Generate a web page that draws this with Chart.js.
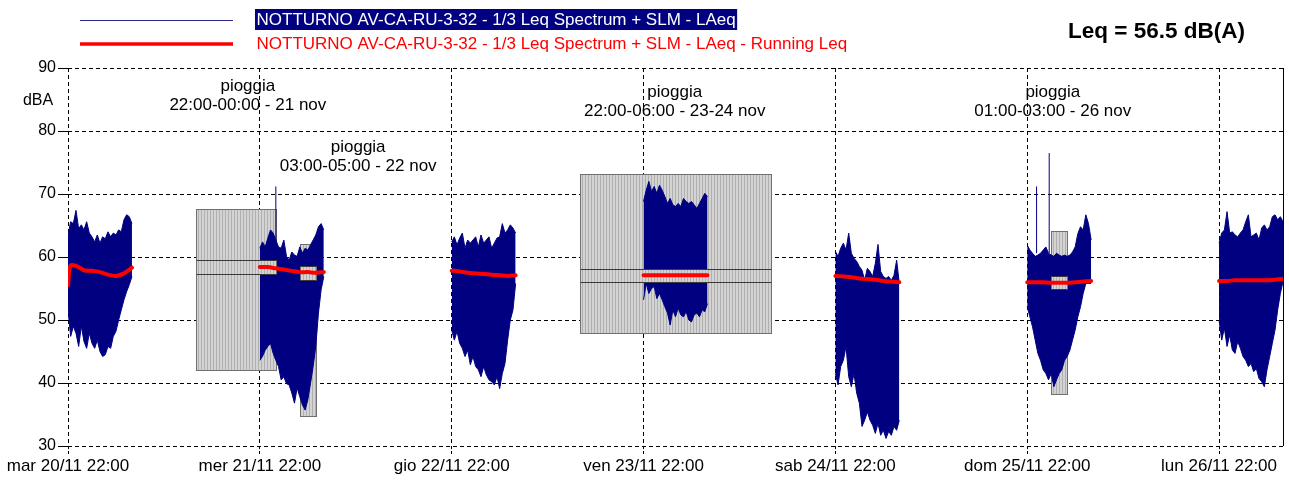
<!DOCTYPE html>
<html>
<head>
<meta charset="utf-8">
<script src="https://cdn.jsdelivr.net/npm/chart.js@4.4.1/dist/chart.umd.min.js"></script>
<style>
    html, body { margin: 0; padding: 0; background: #fff; }
    #wrap { width: 1289px; height: 480px; }
</style>
</head>
<body>
<div id="wrap"><canvas id="leqChart"></canvas></div>
<script>
// x axis: hours counted from mar 20/11 22:00
const xTickHours = [0, 24, 48, 72, 96, 120, 144];
const xTickLabels = [
    'mar 20/11 22:00', 'mer 21/11 22:00', 'gio 22/11 22:00', 'ven 23/11 22:00',
    'sab 24/11 22:00', 'dom 25/11 22:00', 'lun 26/11 22:00'
];

const signalLabel = 'NOTTURNO AV-CA-RU-3-32 - 1/3 Leq Spectrum + SLM - LAeq';
const runningLabel = 'NOTTURNO AV-CA-RU-3-32 - 1/3 Leq Spectrum + SLM - LAeq - Running Leq';
const totalLeqText = 'Leq = 56.5 dB(A)';

// each night: 22:00 -> 06:00, one sample every 20 minutes (25 samples)
const nightStartHours = [0, 24, 48, 72, 96, 120, 144];
const sampleStepHours = 1 / 3;

// LAeq envelope, upper edge of the trace per sample
const laeqHigh = [
    [63.5, 65.6, 65.3, 67.4, 64.5, 65.1, 64.3, 65.6, 63.8, 63.2, 62.4, 63.5, 62.2, 63.2, 62.9, 64.0, 63.2, 63.8, 63.5, 64.3, 64.0, 65.9, 66.7, 66.4, 65.3],
    [61.4, 62.4, 61.6, 63.0, 64.3, 63.8, 62.7, 61.6, 61.4, 62.7, 60.1, 59.5, 60.8, 60.3, 60.1, 61.6, 60.6, 61.4, 61.1, 61.9, 62.7, 63.5, 64.8, 65.3, 64.3],
    [62.4, 63.2, 61.9, 63.0, 63.8, 61.4, 62.7, 62.2, 62.7, 63.2, 61.6, 63.5, 62.2, 62.7, 63.2, 61.4, 62.2, 63.0, 63.2, 65.3, 63.8, 64.3, 65.1, 64.6, 63.8],
    [68.8, 70.6, 72.0, 70.4, 71.2, 70.1, 71.4, 70.6, 69.6, 68.5, 69.3, 68.3, 68.0, 68.5, 68.0, 69.3, 68.8, 68.5, 68.8, 68.3, 67.7, 68.5, 69.3, 70.1, 69.6],
    [60.9, 60.1, 61.4, 62.2, 61.1, 63.8, 60.6, 59.8, 59.3, 58.5, 57.9, 56.3, 58.2, 57.7, 56.9, 59.0, 62.0, 57.7, 56.9, 56.6, 56.9, 56.3, 57.1, 59.5, 55.8],
    [61.9, 61.1, 60.6, 60.1, 60.3, 60.6, 61.1, 61.6, 60.6, 60.3, 60.1, 60.6, 60.3, 60.1, 60.3, 60.1, 60.3, 60.8, 61.6, 63.7, 64.8, 64.3, 66.7, 65.3, 62.7],
    [62.2, 63.8, 64.3, 67.2, 63.8, 64.0, 63.5, 63.2, 63.8, 64.3, 65.6, 66.7, 63.2, 63.5, 63.8, 62.7, 64.6, 65.1, 64.3, 64.8, 66.4, 66.7, 65.9, 66.4, 65.6]
];

// LAeq envelope, lower edge of the trace per sample
const laeqLow = [
    [51.6, 47.4, 49.0, 47.9, 45.8, 49.0, 46.6, 45.5, 47.9, 46.3, 45.5, 46.8, 45.0, 44.2, 44.5, 45.8, 45.5, 47.4, 48.2, 50.0, 51.6, 53.2, 54.5, 55.6, 56.9],
    [43.6, 44.2, 45.2, 45.8, 46.3, 44.7, 43.6, 42.6, 40.5, 41.0, 39.9, 39.7, 38.4, 36.8, 39.2, 37.8, 36.5, 35.7, 37.3, 39.9, 42.6, 45.8, 51.1, 54.8, 56.9],
    [48.4, 46.8, 48.2, 46.3, 45.5, 44.2, 45.2, 42.9, 44.2, 42.6, 42.1, 41.0, 42.6, 41.3, 40.5, 40.2, 39.7, 41.0, 39.1, 41.5, 43.1, 46.8, 50.0, 51.6, 55.8],
    [53.2, 55.8, 54.2, 55.0, 55.3, 53.4, 54.2, 53.2, 52.1, 51.1, 49.2, 51.6, 50.5, 51.9, 50.8, 50.5, 51.3, 50.0, 49.7, 50.8, 51.1, 50.5, 51.6, 51.3, 52.6],
    [41.5, 39.7, 42.6, 43.6, 45.8, 41.0, 39.4, 41.5, 38.4, 36.8, 33.1, 34.1, 35.4, 34.1, 33.3, 32.0, 33.6, 31.7, 32.5, 31.2, 32.3, 31.7, 33.1, 32.5, 34.1],
    [52.1, 50.5, 48.9, 46.8, 44.7, 43.6, 42.1, 41.5, 40.5, 41.5, 39.4, 40.5, 41.5, 42.1, 43.6, 44.2, 45.2, 46.8, 48.4, 50.5, 52.1, 54.2, 55.8, 55.8, 55.8],
    [50.0, 46.8, 48.7, 45.8, 47.6, 45.2, 44.7, 46.6, 45.5, 44.2, 43.6, 42.6, 43.1, 41.8, 42.3, 40.7, 40.2, 39.4, 42.1, 44.2, 46.3, 48.4, 51.6, 54.2, 56.1]
];

// isolated single peaks
const spikeHours = [26, 121.17, 122.75];
const spikeBase = [62.0, 60.6, 60.6];
const spikeTop = [71.2, 71.2, 76.5];

// running Leq, hours after 22:00 of each night
const runningOffsets = [0, 0.3, 1, 2, 3, 4, 5, 6, 7, 8];
const runningLeq = [
    [55.5, 58.6, 58.6, 57.9, 57.8, 57.6, 57.2, 57.0, 57.4, 58.3],
    [58.4, 58.4, 58.4, 58.2, 58.0, 57.8, 57.6, 57.6, 57.5, 57.6],
    [57.8, 57.8, 57.7, 57.5, 57.4, 57.3, 57.2, 57.1, 57.0, 57.1],
    [57.1, 57.1, 57.1, 57.1, 57.1, 57.1, 57.1, 57.1, 57.1, 57.1],
    [57.0, 57.0, 56.9, 56.8, 56.6, 56.5, 56.4, 56.2, 56.1, 56.0],
    [56.0, 56.0, 56.0, 56.0, 55.9, 55.9, 55.9, 56.0, 56.1, 56.2],
    [56.2, 56.2, 56.2, 56.3, 56.3, 56.3, 56.3, 56.3, 56.4, 56.5]
];

// rain periods (masked boxes)
const rainStart = [16, 29, 64, 123];
const rainEnd = [26, 31, 88, 125];
const rainMax = [67.6, 62.0, 73.1, 64.1];
const rainMin = [42.1, 34.8, 48.0, 38.2];
const rainBandHigh = [59.5, 58.6, 58.1, 57.0];
const rainBandLow = [57.3, 56.3, 56.0, 55.0];

// rain notes
const noteHours = [22.5, 36.3, 75.9, 123.2];
const noteLevels = [86.4, 76.7, 85.4, 85.4];
const noteLines = [
    ['pioggia', '22:00-00:00 - 21 nov'],
    ['pioggia', '03:00-05:00 - 22 nov'],
    ['pioggia', '22:00-06:00 - 23-24 nov'],
    ['pioggia', '01:00-03:00 - 26 nov']
];

const NAVY = '#000080';
const RED = '#ff0000';
const FONT = "'Liberation Sans', Arial, sans-serif";

Chart.defaults.font.family = FONT;
Chart.defaults.color = '#000';

// build datasets
const datasets = [];
nightStartHours.forEach((start, k) => {
    datasets.push({
        label: signalLabel,
        data: laeqHigh[k].map((v, i) => ({ x: start + i * sampleStepHours, y: v })),
        borderColor: NAVY, borderWidth: 1, pointRadius: 0, fill: false, order: 1
    });
    datasets.push({
        label: signalLabel,
        data: laeqLow[k].map((v, i) => ({ x: start + i * sampleStepHours, y: v })),
        borderColor: NAVY, backgroundColor: NAVY, borderWidth: 1, pointRadius: 0,
        fill: '-1', order: 1
    });
});

const spikeData = [];
spikeHours.forEach((h, i) => {
    spikeData.push({ x: h, y: spikeBase[i] }, { x: h, y: spikeTop[i] }, { x: h, y: null });
});
datasets.push({
    label: signalLabel, data: spikeData, borderColor: NAVY, borderWidth: 1,
    pointRadius: 0, fill: false, spanGaps: false, order: 1
});

const runningData = [];
nightStartHours.forEach((start, k) => {
    runningOffsets.forEach((o, i) => runningData.push({ x: start + o, y: runningLeq[k][i] }));
    runningData.push({ x: start + 8.1, y: null });
});
datasets.push({
    label: runningLabel, data: runningData, borderColor: RED, borderWidth: 4,
    pointRadius: 0, fill: false, spanGaps: false, order: 0, tension: 0.3,
    borderCapStyle: 'round', borderJoinStyle: 'round'
});

function makeHatch(ctx) {
    const c = document.createElement('canvas');
    c.width = 3; c.height = 1;
    const g = c.getContext('2d');
    g.fillStyle = '#d3d3d3';
    g.fillRect(0, 0, 3, 1);
    g.fillStyle = '#b0b0b0';
    g.fillRect(0, 0, 1, 1);
    return ctx.createPattern(c, 'repeat');
}

// grey rain boxes: outer box behind the trace, inner band over it
const rainBoxes = {
    id: 'rainBoxes',
    beforeDatasetsDraw(chart) {
        const { ctx, chartArea, scales: { x, y } } = chart;
        ctx.save();
        // right frame
        ctx.strokeStyle = '#000';
        ctx.lineWidth = 1;
        ctx.beginPath();
        ctx.moveTo(Math.round(chartArea.right) + 0.5, chartArea.top);
        ctx.lineTo(Math.round(chartArea.right) + 0.5, chartArea.bottom);
        ctx.stroke();

        const hatch = makeHatch(ctx);
        rainStart.forEach((s, i) => {
            const x0 = Math.round(x.getPixelForValue(s)) + 0.5;
            const x1 = Math.round(x.getPixelForValue(rainEnd[i])) + 0.5;
            const y0 = Math.round(y.getPixelForValue(rainMax[i])) + 0.5;
            const y1 = Math.round(y.getPixelForValue(rainMin[i])) + 0.5;
            ctx.fillStyle = hatch;
            ctx.fillRect(x0, y0, x1 - x0, y1 - y0);
            ctx.strokeStyle = '#707070';
            ctx.strokeRect(x0, y0, x1 - x0, y1 - y0);
        });
        ctx.restore();
    },
    beforeDatasetDraw(chart, args) {
        if (chart.data.datasets[args.index].label !== runningLabel) return;
        const { ctx, scales: { x, y } } = chart;
        ctx.save();
        const hatch = makeHatch(ctx);
        rainStart.forEach((s, i) => {
            const x0 = Math.round(x.getPixelForValue(s)) + 0.5;
            const x1 = Math.round(x.getPixelForValue(rainEnd[i])) + 0.5;
            const y0 = Math.round(y.getPixelForValue(rainBandHigh[i])) + 0.5;
            const y1 = Math.round(y.getPixelForValue(rainBandLow[i])) + 0.5;
            ctx.fillStyle = hatch;
            ctx.fillRect(x0, y0, x1 - x0, y1 - y0);
            ctx.strokeStyle = '#707070';
            ctx.beginPath();
            ctx.moveTo(x0, y0); ctx.lineTo(x0, y1);
            ctx.moveTo(x1, y0); ctx.lineTo(x1, y1);
            ctx.stroke();
            ctx.strokeStyle = '#3a3a3a';
            ctx.beginPath();
            ctx.moveTo(x0, y0); ctx.lineTo(x1, y0);
            ctx.moveTo(x0, y1); ctx.lineTo(x1, y1);
            ctx.stroke();
        });
        ctx.restore();
    }
};

// legend, total Leq, rain notes and unit label
const overlayText = {
    id: 'overlayText',
    afterDraw(chart) {
        const { ctx, chartArea, scales: { x, y } } = chart;
        ctx.save();

        // legend row 1
        ctx.strokeStyle = '#2b2b86';
        ctx.lineWidth = 1.2;
        ctx.beginPath();
        ctx.moveTo(80, 20.5); ctx.lineTo(233, 20.5);
        ctx.stroke();
        ctx.font = '17px ' + FONT;
        ctx.textBaseline = 'middle';
        ctx.textAlign = 'left';
        const w1 = Math.min(ctx.measureText(signalLabel).width, 484);
        ctx.fillStyle = NAVY;
        ctx.fillRect(255, 9, w1 + 3, 21);
        ctx.fillStyle = '#fff';
        ctx.fillText(signalLabel, 256.5, 20, 484);

        // legend row 2
        ctx.strokeStyle = RED;
        ctx.lineWidth = 3.5;
        ctx.beginPath();
        ctx.moveTo(80, 44); ctx.lineTo(233, 44);
        ctx.stroke();
        ctx.fillStyle = RED;
        ctx.fillText(runningLabel, 256.5, 44, 592);

        // total Leq
        ctx.fillStyle = '#000';
        ctx.font = 'bold 22.5px ' + FONT;
        ctx.fillText(totalLeqText, 1068, 32);

        // unit
        ctx.font = '16px ' + FONT;
        ctx.textAlign = 'center';
        ctx.fillText('dBA', chartArea.left - 30, y.getPixelForValue(84.8));

        // rain notes
        ctx.font = '17px ' + FONT;
        ctx.textBaseline = 'alphabetic';
        noteHours.forEach((h, i) => {
            const px = x.getPixelForValue(h);
            const py = y.getPixelForValue(noteLevels[i]);
            noteLines[i].forEach((line, j) => ctx.fillText(line, px, py + j * 19));
        });
        ctx.restore();
    }
};

new Chart(document.getElementById('leqChart'), {
    type: 'line',
    data: { datasets },
    options: {
        responsive: true,
        maintainAspectRatio: false,
        animation: false,
        events: [],
        layout: { padding: { top: 68, right: 6, left: 0, bottom: 0 } },
        plugins: {
            legend: { display: false },
            tooltip: { enabled: false },
            title: { display: false }
        },
        elements: { line: { tension: 0 } },
        scales: {
            x: {
                type: 'linear',
                min: 0,
                max: 152,
                afterBuildTicks: (axis) => {
                    axis.ticks = xTickHours.map(v => ({ value: v }));
                },
                afterFit: (scale) => { scale.height = 34; },
                ticks: {
                    autoSkip: false,
                    maxRotation: 0,
                    padding: 2,
                    font: { size: 17 },
                    color: '#000',
                    callback: (value, index) => xTickLabels[index]
                },
                grid: {
                    color: '#000',
                    lineWidth: 1,
                    tickLength: 8,
                    tickColor: '#000',
                    tickBorderDash: [3, 2]
                },
                border: { display: false, dash: [4, 3] }
            },
            y: {
                min: 30,
                max: 90,
                afterFit: (scale) => { scale.width = 68; },
                ticks: {
                    stepSize: 10,
                    padding: 2,
                    font: { size: 16 },
                    color: '#000'
                },
                grid: {
                    color: '#000',
                    lineWidth: 1,
                    tickLength: 10,
                    tickColor: '#000',
                    tickBorderDash: []
                },
                border: { display: false, dash: [4, 3] }
            }
        }
    },
    plugins: [rainBoxes, overlayText]
});
</script>
</body>
</html>
